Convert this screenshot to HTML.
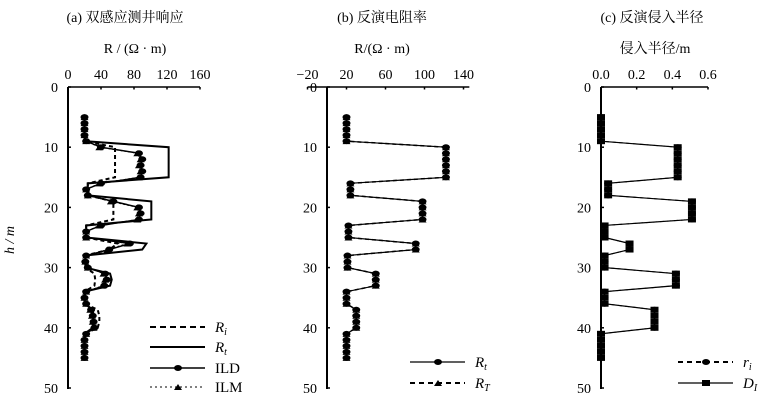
<!DOCTYPE html>
<html><head><meta charset="utf-8"><style>
body{margin:0;background:#fff;}
svg{display:block;font-family:"Liberation Serif","Noto Serif CJK SC","Noto Sans CJK SC",serif;}
</style></head><body>
<svg id="c" width="768" height="407" viewBox="0 0 768 407"></svg>
<script>
const depths=[5,6,7,8,9,10,11,12,13,14,15,16,17,18,19,20,21,22,23,24,25,26,27,28,29,30,31,32,33,34,35,36,37,38,39,40,41,42,43,44,45];
// Panel a
const aRt=[20,20,20,20,20,122,122,122,122,122,122,24,24,24,101,101,101,101,22,22,22,95,90,21,21,21,51,53,51,20,20,20,30,31,30,30,20,20,20,20,20];
const aRi=[20,20,20,20,20,57,57,57,57,57,57,24,24,24,55,55,55,55,22,22,22,60,50,21,21,21,32,33,32,20,20,20,36,38,38,36,20,20,20,20,20];
const aILD=[20,20,20,20,22,40,86,90,88,90,88,40,22,24,55,86,88,86,40,22,22,75,50,22,21,24,45,47,44,22,20,22,28,30,31,32,22,20,20,20,20];
const aILM=[20,20,20,20,22,38,84,88,86,88,86,38,22,24,52,84,86,84,38,22,22,72,48,22,21,24,43,45,42,22,20,22,27,29,30,31,22,20,20,20,20];
// Panel b
const bRt=[20,20,20,20,20,122,122,122,122,122,122,24,24,24,98,98,98,98,22,22,22,91,91,21,21,21,50,50,50,20,20,20,30,30,30,30,20,20,20,20,20];
const bRT=[20,20,20,20,20,122,122,122,122,122,122,24,24,24,98,98,98,98,22,22,22,91,91,21,21,21,50,50,50,20,20,20,30,30,30,30,20,20,20,20,20];
// Panel c
const cri=[0,0,0,0,0,0.43,0.43,0.43,0.43,0.43,0.43,0.04,0.04,0.04,0.51,0.51,0.51,0.51,0.02,0.02,0.02,0.16,0.16,0.02,0.02,0.02,0.42,0.42,0.42,0.02,0.02,0.02,0.30,0.30,0.30,0.30,0,0,0,0,0];
const cDI=[0,0,0,0,0,0.43,0.43,0.43,0.43,0.43,0.43,0.04,0.04,0.04,0.51,0.51,0.51,0.51,0.02,0.02,0.02,0.16,0.16,0.02,0.02,0.02,0.42,0.42,0.42,0.02,0.02,0.02,0.30,0.30,0.30,0.30,0,0,0,0,0];
const aTicks=[0,40,80,120,160], bTicks=[-20,20,60,100,140], cTicks=[0,0.2,0.4,0.6];
const yTicks=[0,10,20,30,40,50];

const svg=document.getElementById('c');
const NS='http://www.w3.org/2000/svg';
function el(t,at,p){const e=document.createElementNS(NS,t);for(const k in at)e.setAttribute(k,at[k]);(p||svg).appendChild(e);return e;}
function txt(s,x,y,anchor,size,p){const e=el('text',{x:x,y:y,'text-anchor':anchor||'middle','font-size':size||14,fill:'#000'},p);e.textContent=s;return e;}
const Y=h=>87+h*6.02;

function panel(id,x0,xScale,ticks,fmt,axMin,axMax,title,axTitle){
  const g=el('g',{});
  
  
  const t=txt(title,0,0,'middle',14,g);
  
  const xa=el('g',{},g);
  
  el('line',{x1:xScale(axMin),x2:xScale(axMax),y1:Y(0),y2:Y(0),stroke:'#000','stroke-width':1.5},xa);
  ticks.forEach(v=>{el('line',{x1:xScale(v),x2:xScale(v),y1:Y(0),y2:Y(0)+2.5,stroke:'#000','stroke-width':1.5},xa);
    txt(fmt(v),xScale(v),79,'middle',14,xa);});
  const ya=el('g',{},g);
  
  el('line',{x1:x0,x2:x0,y1:Y(0),y2:Y(50)+1,stroke:'#000','stroke-width':2},ya);
  yTicks.forEach(v=>{el('line',{x1:x0,x2:x0+3,y1:Y(v),y2:Y(v),stroke:'#000','stroke-width':1.5},ya);
    txt(String(v),x0-10,Y(v)+5,'end',14,ya);});
  return {g,t};
}
function series(g,name,vals,xs,style){
  const s=el('g',{},g);
  
  
  const pts=vals.map((v,i)=>xs(v)+','+Y(depths[i])).join(' ');
  el('polyline',{points:pts,fill:'none',stroke:'#000','stroke-width':style.w||1.5,'stroke-dasharray':style.dash||'none'},s);
  if(style.marker) vals.forEach((v,i)=>marker(s,style.marker,xs(v),Y(depths[i])));
}
function marker(p,type,x,y){
  if(type==='circle') el('ellipse',{cx:x,cy:y,rx:4,ry:3,fill:'#000'},p);
  else if(type==='tri') el('polygon',{points:`${x-4},${y+3} ${x+4},${y+3} ${x},${y-3}`,fill:'#000'},p);
  else if(type==='sq') el('rect',{x:x-4,y:y-3,width:8,height:6,fill:'#000'},p);
}
function legend(g,name,x1,y,label,style,sub){
  const l=el('g',{},g);
  
  
  el('line',{x1:x1,x2:x1+55,y1:y,y2:y,stroke:'#000','stroke-width':style.w||1.5,'stroke-dasharray':style.dash||'none'},l);
  if(style.marker) marker(l,style.marker,x1+28,y);
  const t=el('text',{x:x1+65,y:y+5,'font-size':15},l);
  if(sub){const a=el('tspan',{'font-style':'italic'},t);a.textContent=label;const b=el('tspan',{'font-size':10,dy:3,'font-style':'italic'},t);b.textContent=sub;}
  else t.textContent=label;
}

// Panel a
const xa=v=>68+v*132/160;
let P=panel('panel-a',68,xa,aTicks,String,0,160,'',''); 
P.t.setAttribute('x',125);P.t.setAttribute('y',22);P.t.textContent='(a)  双感应测井响应';
let at=txt('R / (Ω · m)',135,53,'middle',14,P.g);

series(P.g,'series-a-ilm',aILM,xa,{dash:'2,2',w:1,marker:'tri'});
series(P.g,'series-a-ild',aILD,xa,{w:1.5,marker:'circle'});
series(P.g,'series-a-ri',aRi,xa,{dash:'4,3',w:2});
series(P.g,'series-a-rt',aRt,xa,{w:2});
legend(P.g,'legend-a-ri',150,327,'R','i'===''?{}:{dash:'6,4',w:2},'i');
legend(P.g,'legend-a-rt',150,347,'R',{w:2},'t');
legend(P.g,'legend-a-ild',150,368,'ILD',{w:1.5,marker:'circle'});
legend(P.g,'legend-a-ilm',150,387,'ILM',{dash:'2,3',w:1,marker:'tri'});
let yt=txt('h / m',0,0,'middle',14,svg);
yt.setAttribute('transform','translate(14,240) rotate(-90)');

yt.setAttribute('font-style','italic');

// Panel b
const xb=v=>327+v*0.975;
P=panel('panel-b',327,xb,bTicks,v=>v<0?'−'+(-v):String(v),-20,146,'','');
P.t.setAttribute('x',382);P.t.setAttribute('y',22);P.t.textContent='(b) 反演电阻率';
at=txt('R/(Ω · m)',382,53,'middle',14,P.g);

series(P.g,'series-b-rT',bRT,xb,{dash:'4,3',w:1.5,marker:'tri'});
series(P.g,'series-b-rt',bRt,xb,{w:1.2,marker:'circle'});
legend(P.g,'legend-b-rt',410,362,'R',{w:1.2,marker:'circle'},'t');
legend(P.g,'legend-b-rT',410,383,'R',{dash:'5,4',w:2,marker:'tri'},'T');

// Panel c
const xc=v=>601+v*107/0.6;
P=panel('panel-c',601,xc,cTicks,v=>v.toFixed(1),0,0.6,'','');
P.t.setAttribute('x',652);P.t.setAttribute('y',22);P.t.textContent='(c)  反演侵入半径';
at=txt('侵入半径/m',655,53,'middle',14,P.g);

series(P.g,'series-c-di',cDI,xc,{w:1.2,marker:'sq'});
series(P.g,'series-c-ri',cri,xc,{dash:'4,3',w:1,marker:'circle'});
legend(P.g,'legend-c-ri',678,362,'r',{dash:'5,4',w:2,marker:'circle'},'i');
legend(P.g,'legend-c-di',678,383,'D',{w:1.2,marker:'sq'},'I');
</script>
</body></html>
